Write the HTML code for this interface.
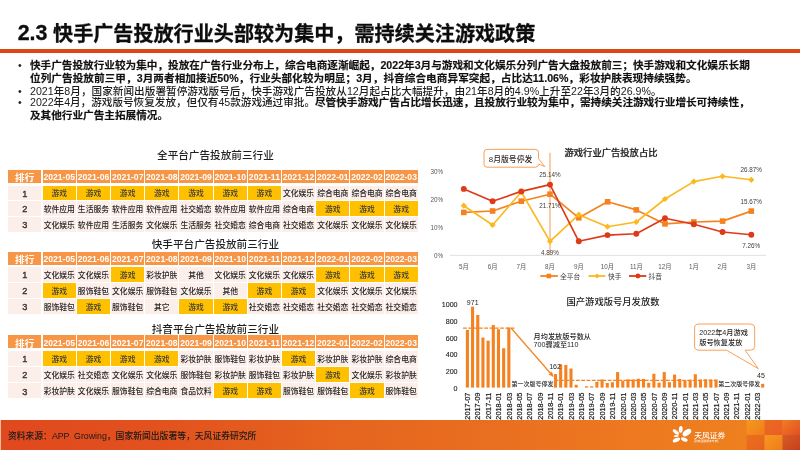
<!DOCTYPE html>
<html lang="zh-CN">
<head>
<meta charset="utf-8">
<title>2.3 快手广告投放行业头部较为集中，需持续关注游戏政策</title>
<style>
html,body{margin:0;padding:0;}
body{width:800px;height:450px;position:relative;overflow:hidden;background:#fff;font-family:"Liberation Sans", "Noto Sans CJK SC", sans-serif;color:#1a1a1a;}
.abs{position:absolute;white-space:nowrap;}
#title{left:18.6px;top:20.0px;font-size:20.1px;line-height:28px;font-weight:bold;color:#0d0d0d;-webkit-text-stroke:0.3px #0d0d0d;}
#title span{font-size:21.4px;position:relative;top:-1.4px;margin-left:-0.9px;}
#rule{left:0;top:49.4px;width:800px;height:3.2px;background:#dc4614;}
.bl{left:30px;font-size:10.63px;line-height:12px;color:#1c1c1c;font-weight:500;}
.bl b{-webkit-text-stroke:0.15px #111;}
#l0{letter-spacing:-0.005px;}#l3{letter-spacing:-0.025px;}#l1{letter-spacing:0.046px;}#l2{letter-spacing:0.015px;}
.bl b{color:#111;}
.bl i{font-style:normal;font-size:1.06em;}
.dot{left:18px;font-size:10.63px;line-height:12px;color:#222;}
.ttl{font-size:10.62px;line-height:14px;color:#1f1f1f;text-align:center;width:200px;font-weight:500;}
.c{position:absolute;box-sizing:border-box;text-align:center;white-space:nowrap;overflow:hidden;font-size:7.8px;color:#262626;font-weight:500;padding-top:0.9px;}
.h{background:#f79646;color:#fff;font-weight:bold;font-size:8.6px;padding-top:1.4px;}
.g{background:#ffc000;color:#3a3a3a;}
.r1{background:#fceee9;}
.r2{background:#fceee9;}
.n{font-weight:normal;color:#333;font-size:9.2px;-webkit-text-stroke:0.35px #333;}
#footer{left:0;top:419.7px;width:800px;height:30.3px;background:linear-gradient(90deg,#e0481e 0%,#e2521e 20%,#e5641f 42%,#e96e20 60%,#ed7820 78%,#ee801e 93%);}
#src{left:7.9px;top:430px;font-size:8.8px;line-height:12px;color:#1a1a1a;font-weight:500;word-spacing:2.3px;}
svg text{font-family:"Liberation Sans", "Noto Sans CJK SC", sans-serif;}
</style>
</head>
<body>
<div id="title" class="abs"><span>2.3</span> 快手广告投放行业头部较为集中，需持续关注游戏政策</div>
<div id="rule" class="abs"></div>
<div class="abs dot" style="top:59.0px">•</div><div class="abs bl" id="l0" style="top:59.0px"><b>快手广告投放行业较为集中，投放在广告行业分布上，综合电商逐渐崛起，2022年3月与游戏和文化娱乐分列广告大盘投放前三；快手游戏和文化娱乐长期</b></div>
<div class="abs bl" id="l1" style="top:71.5px"><b>位列广告投放前三甲，3月两者相加接近50%，行业头部化较为明显；3月，抖音综合电商异军突起，占比达11.06%，彩妆护肤表现持续强势。</b></div>
<div class="abs dot" style="top:84.5px">•</div><div class="abs bl" id="l2" style="top:84.5px">2021年8月，国家新闻出版署暂停游戏版号后，快手游戏广告投放从12月起占比大幅提升，由21年8月的4.9%上升至22年3月的26.9%。</div>
<div class="abs dot" style="top:96.4px">•</div><div class="abs bl" id="l3" style="top:96.4px">2022年4月，游戏版号恢复发放，但仅有45款游戏通过审批。<b>尽管快手游戏广告占比增长迅速，且投放行业较为集中，需持续关注游戏行业增长可持续性，</b></div>
<div class="abs bl" id="l4" style="top:109.0px"><b>及其他行业广告主拓展情况。</b></div>
<div class="abs ttl" style="left:115.4px;top:147.6px">全平台广告投放前三行业</div>
<div class="c h" style="left:8.00px;top:169.75px;width:33.40px;height:13.10px;line-height:13.10px;padding-top:1.40px"><span style="font-size:9.6px">排行</span></div><div class="c h" style="left:42.70px;top:169.75px;width:33.15px;height:13.10px;line-height:13.10px;padding-top:1.40px">2021-05</div><div class="c h" style="left:76.89px;top:169.75px;width:33.15px;height:13.10px;line-height:13.10px;padding-top:1.40px">2021-06</div><div class="c h" style="left:111.08px;top:169.75px;width:33.15px;height:13.10px;line-height:13.10px;padding-top:1.40px">2021-07</div><div class="c h" style="left:145.27px;top:169.75px;width:33.15px;height:13.10px;line-height:13.10px;padding-top:1.40px">2021-08</div><div class="c h" style="left:179.46px;top:169.75px;width:33.15px;height:13.10px;line-height:13.10px;padding-top:1.40px">2021-09</div><div class="c h" style="left:213.65px;top:169.75px;width:33.15px;height:13.10px;line-height:13.10px;padding-top:1.40px">2021-10</div><div class="c h" style="left:247.84px;top:169.75px;width:33.15px;height:13.10px;line-height:13.10px;padding-top:1.40px">2021-11</div><div class="c h" style="left:282.03px;top:169.75px;width:33.15px;height:13.10px;line-height:13.10px;padding-top:1.40px">2021-12</div><div class="c h" style="left:316.22px;top:169.75px;width:33.15px;height:13.10px;line-height:13.10px;padding-top:1.40px">2022-01</div><div class="c h" style="left:350.41px;top:169.75px;width:33.15px;height:13.10px;line-height:13.10px;padding-top:1.40px">2022-02</div><div class="c h" style="left:384.60px;top:169.75px;width:33.15px;height:13.10px;line-height:13.10px;padding-top:1.40px">2022-03</div>
<div class="c r1 n" style="left:8.00px;top:185.60px;width:33.40px;height:14.90px;line-height:14.90px;padding-top:1.00px">1</div><div class="c g" style="left:42.70px;top:185.60px;width:33.15px;height:14.90px;line-height:14.90px;padding-top:1.00px">游戏</div><div class="c g" style="left:76.89px;top:185.60px;width:33.15px;height:14.90px;line-height:14.90px;padding-top:1.00px">游戏</div><div class="c g" style="left:111.08px;top:185.60px;width:33.15px;height:14.90px;line-height:14.90px;padding-top:1.00px">游戏</div><div class="c g" style="left:145.27px;top:185.60px;width:33.15px;height:14.90px;line-height:14.90px;padding-top:1.00px">游戏</div><div class="c g" style="left:179.46px;top:185.60px;width:33.15px;height:14.90px;line-height:14.90px;padding-top:1.00px">游戏</div><div class="c g" style="left:213.65px;top:185.60px;width:33.15px;height:14.90px;line-height:14.90px;padding-top:1.00px">游戏</div><div class="c g" style="left:247.84px;top:185.60px;width:33.15px;height:14.90px;line-height:14.90px;padding-top:1.00px">游戏</div><div class="c r1" style="left:282.03px;top:185.60px;width:33.15px;height:14.90px;line-height:14.90px;padding-top:1.00px">文化娱乐</div><div class="c r1" style="left:316.22px;top:185.60px;width:33.15px;height:14.90px;line-height:14.90px;padding-top:1.00px">综合电商</div><div class="c r1" style="left:350.41px;top:185.60px;width:33.15px;height:14.90px;line-height:14.90px;padding-top:1.00px">综合电商</div><div class="c r1" style="left:384.60px;top:185.60px;width:33.15px;height:14.90px;line-height:14.90px;padding-top:1.00px">综合电商</div>
<div class="c r2 n" style="left:8.00px;top:201.10px;width:33.40px;height:15.00px;line-height:15.00px;padding-top:0.90px">2</div><div class="c r2" style="left:42.70px;top:201.10px;width:33.15px;height:15.00px;line-height:15.00px;padding-top:0.90px">软件应用</div><div class="c r2" style="left:76.89px;top:201.10px;width:33.15px;height:15.00px;line-height:15.00px;padding-top:0.90px">生活服务</div><div class="c r2" style="left:111.08px;top:201.10px;width:33.15px;height:15.00px;line-height:15.00px;padding-top:0.90px">软件应用</div><div class="c r2" style="left:145.27px;top:201.10px;width:33.15px;height:15.00px;line-height:15.00px;padding-top:0.90px">软件应用</div><div class="c r2" style="left:179.46px;top:201.10px;width:33.15px;height:15.00px;line-height:15.00px;padding-top:0.90px">社交婚恋</div><div class="c r2" style="left:213.65px;top:201.10px;width:33.15px;height:15.00px;line-height:15.00px;padding-top:0.90px">软件应用</div><div class="c r2" style="left:247.84px;top:201.10px;width:33.15px;height:15.00px;line-height:15.00px;padding-top:0.90px">软件应用</div><div class="c r2" style="left:282.03px;top:201.10px;width:33.15px;height:15.00px;line-height:15.00px;padding-top:0.90px">综合电商</div><div class="c g" style="left:316.22px;top:201.10px;width:33.15px;height:15.00px;line-height:15.00px;padding-top:0.90px">游戏</div><div class="c g" style="left:350.41px;top:201.10px;width:33.15px;height:15.00px;line-height:15.00px;padding-top:0.90px">游戏</div><div class="c g" style="left:384.60px;top:201.10px;width:33.15px;height:15.00px;line-height:15.00px;padding-top:0.90px">游戏</div>
<div class="c r1 n" style="left:8.00px;top:217.00px;width:33.40px;height:15.00px;line-height:15.00px;padding-top:0.90px">3</div><div class="c r1" style="left:42.70px;top:217.00px;width:33.15px;height:15.00px;line-height:15.00px;padding-top:0.90px">文化娱乐</div><div class="c r1" style="left:76.89px;top:217.00px;width:33.15px;height:15.00px;line-height:15.00px;padding-top:0.90px">软件应用</div><div class="c r1" style="left:111.08px;top:217.00px;width:33.15px;height:15.00px;line-height:15.00px;padding-top:0.90px">生活服务</div><div class="c r1" style="left:145.27px;top:217.00px;width:33.15px;height:15.00px;line-height:15.00px;padding-top:0.90px">文化娱乐</div><div class="c r1" style="left:179.46px;top:217.00px;width:33.15px;height:15.00px;line-height:15.00px;padding-top:0.90px">生活服务</div><div class="c r1" style="left:213.65px;top:217.00px;width:33.15px;height:15.00px;line-height:15.00px;padding-top:0.90px">社交婚恋</div><div class="c r1" style="left:247.84px;top:217.00px;width:33.15px;height:15.00px;line-height:15.00px;padding-top:0.90px">综合电商</div><div class="c r1" style="left:282.03px;top:217.00px;width:33.15px;height:15.00px;line-height:15.00px;padding-top:0.90px">社交婚恋</div><div class="c r1" style="left:316.22px;top:217.00px;width:33.15px;height:15.00px;line-height:15.00px;padding-top:0.90px">文化娱乐</div><div class="c r1" style="left:350.41px;top:217.00px;width:33.15px;height:15.00px;line-height:15.00px;padding-top:0.90px">文化娱乐</div><div class="c r1" style="left:384.60px;top:217.00px;width:33.15px;height:15.00px;line-height:15.00px;padding-top:0.90px">文化娱乐</div>
<div class="abs ttl" style="left:115.4px;top:236.9px">快手平台广告投放前三行业</div>
<div class="c h" style="left:8.00px;top:251.60px;width:33.40px;height:13.10px;line-height:13.10px;padding-top:1.40px"><span style="font-size:9.6px">排行</span></div><div class="c h" style="left:42.70px;top:251.60px;width:33.15px;height:13.10px;line-height:13.10px;padding-top:1.40px">2021-05</div><div class="c h" style="left:76.89px;top:251.60px;width:33.15px;height:13.10px;line-height:13.10px;padding-top:1.40px">2021-06</div><div class="c h" style="left:111.08px;top:251.60px;width:33.15px;height:13.10px;line-height:13.10px;padding-top:1.40px">2021-07</div><div class="c h" style="left:145.27px;top:251.60px;width:33.15px;height:13.10px;line-height:13.10px;padding-top:1.40px">2021-08</div><div class="c h" style="left:179.46px;top:251.60px;width:33.15px;height:13.10px;line-height:13.10px;padding-top:1.40px">2021-09</div><div class="c h" style="left:213.65px;top:251.60px;width:33.15px;height:13.10px;line-height:13.10px;padding-top:1.40px">2021-10</div><div class="c h" style="left:247.84px;top:251.60px;width:33.15px;height:13.10px;line-height:13.10px;padding-top:1.40px">2021-11</div><div class="c h" style="left:282.03px;top:251.60px;width:33.15px;height:13.10px;line-height:13.10px;padding-top:1.40px">2021-12</div><div class="c h" style="left:316.22px;top:251.60px;width:33.15px;height:13.10px;line-height:13.10px;padding-top:1.40px">2022-01</div><div class="c h" style="left:350.41px;top:251.60px;width:33.15px;height:13.10px;line-height:13.10px;padding-top:1.40px">2022-02</div><div class="c h" style="left:384.60px;top:251.60px;width:33.15px;height:13.10px;line-height:13.10px;padding-top:1.40px">2022-03</div>
<div class="c r1 n" style="left:8.00px;top:267.10px;width:33.40px;height:15.40px;line-height:15.40px;padding-top:0.90px">1</div><div class="c r1" style="left:42.70px;top:267.10px;width:33.15px;height:15.40px;line-height:15.40px;padding-top:0.90px">文化娱乐</div><div class="c r1" style="left:76.89px;top:267.10px;width:33.15px;height:15.40px;line-height:15.40px;padding-top:0.90px">文化娱乐</div><div class="c g" style="left:111.08px;top:267.10px;width:33.15px;height:15.40px;line-height:15.40px;padding-top:0.90px">游戏</div><div class="c r1" style="left:145.27px;top:267.10px;width:33.15px;height:15.40px;line-height:15.40px;padding-top:0.90px">彩妆护肤</div><div class="c r1" style="left:179.46px;top:267.10px;width:33.15px;height:15.40px;line-height:15.40px;padding-top:0.90px">其他</div><div class="c r1" style="left:213.65px;top:267.10px;width:33.15px;height:15.40px;line-height:15.40px;padding-top:0.90px">文化娱乐</div><div class="c r1" style="left:247.84px;top:267.10px;width:33.15px;height:15.40px;line-height:15.40px;padding-top:0.90px">文化娱乐</div><div class="c r1" style="left:282.03px;top:267.10px;width:33.15px;height:15.40px;line-height:15.40px;padding-top:0.90px">文化娱乐</div><div class="c g" style="left:316.22px;top:267.10px;width:33.15px;height:15.40px;line-height:15.40px;padding-top:0.90px">游戏</div><div class="c g" style="left:350.41px;top:267.10px;width:33.15px;height:15.40px;line-height:15.40px;padding-top:0.90px">游戏</div><div class="c g" style="left:384.60px;top:267.10px;width:33.15px;height:15.40px;line-height:15.40px;padding-top:0.90px">游戏</div>
<div class="c r2 n" style="left:8.00px;top:283.10px;width:33.40px;height:15.10px;line-height:15.10px;padding-top:0.90px">2</div><div class="c g" style="left:42.70px;top:283.10px;width:33.15px;height:15.10px;line-height:15.10px;padding-top:0.90px">游戏</div><div class="c r2" style="left:76.89px;top:283.10px;width:33.15px;height:15.10px;line-height:15.10px;padding-top:0.90px">服饰鞋包</div><div class="c r2" style="left:111.08px;top:283.10px;width:33.15px;height:15.10px;line-height:15.10px;padding-top:0.90px">文化娱乐</div><div class="c r2" style="left:145.27px;top:283.10px;width:33.15px;height:15.10px;line-height:15.10px;padding-top:0.90px">服饰鞋包</div><div class="c r2" style="left:179.46px;top:283.10px;width:33.15px;height:15.10px;line-height:15.10px;padding-top:0.90px">文化娱乐</div><div class="c r2" style="left:213.65px;top:283.10px;width:33.15px;height:15.10px;line-height:15.10px;padding-top:0.90px">其他</div><div class="c g" style="left:247.84px;top:283.10px;width:33.15px;height:15.10px;line-height:15.10px;padding-top:0.90px">游戏</div><div class="c g" style="left:282.03px;top:283.10px;width:33.15px;height:15.10px;line-height:15.10px;padding-top:0.90px">游戏</div><div class="c r2" style="left:316.22px;top:283.10px;width:33.15px;height:15.10px;line-height:15.10px;padding-top:0.90px">文化娱乐</div><div class="c r2" style="left:350.41px;top:283.10px;width:33.15px;height:15.10px;line-height:15.10px;padding-top:0.90px">文化娱乐</div><div class="c r2" style="left:384.60px;top:283.10px;width:33.15px;height:15.10px;line-height:15.10px;padding-top:0.90px">文化娱乐</div>
<div class="c r1 n" style="left:8.00px;top:298.90px;width:33.40px;height:15.30px;line-height:15.30px;padding-top:1.00px">3</div><div class="c r1" style="left:42.70px;top:298.90px;width:33.15px;height:15.30px;line-height:15.30px;padding-top:1.00px">服饰鞋包</div><div class="c g" style="left:76.89px;top:298.90px;width:33.15px;height:15.30px;line-height:15.30px;padding-top:1.00px">游戏</div><div class="c r1" style="left:111.08px;top:298.90px;width:33.15px;height:15.30px;line-height:15.30px;padding-top:1.00px">服饰鞋包</div><div class="c r1" style="left:145.27px;top:298.90px;width:33.15px;height:15.30px;line-height:15.30px;padding-top:1.00px">其它</div><div class="c g" style="left:179.46px;top:298.90px;width:33.15px;height:15.30px;line-height:15.30px;padding-top:1.00px">游戏</div><div class="c g" style="left:213.65px;top:298.90px;width:33.15px;height:15.30px;line-height:15.30px;padding-top:1.00px">游戏</div><div class="c r1" style="left:247.84px;top:298.90px;width:33.15px;height:15.30px;line-height:15.30px;padding-top:1.00px">社交婚恋</div><div class="c r1" style="left:282.03px;top:298.90px;width:33.15px;height:15.30px;line-height:15.30px;padding-top:1.00px">社交婚恋</div><div class="c r1" style="left:316.22px;top:298.90px;width:33.15px;height:15.30px;line-height:15.30px;padding-top:1.00px">社交婚恋</div><div class="c r1" style="left:350.41px;top:298.90px;width:33.15px;height:15.30px;line-height:15.30px;padding-top:1.00px">社交婚恋</div><div class="c r1" style="left:384.60px;top:298.90px;width:33.15px;height:15.30px;line-height:15.30px;padding-top:1.00px">社交婚恋</div>
<div class="abs ttl" style="left:115.4px;top:321.8px">抖音平台广告投放前三行业</div>
<div class="c h" style="left:8.00px;top:335.10px;width:33.40px;height:13.10px;line-height:13.10px;padding-top:2.20px"><span style="font-size:9.6px">排行</span></div><div class="c h" style="left:42.70px;top:335.10px;width:33.15px;height:13.10px;line-height:13.10px;padding-top:2.20px">2021-05</div><div class="c h" style="left:76.89px;top:335.10px;width:33.15px;height:13.10px;line-height:13.10px;padding-top:2.20px">2021-06</div><div class="c h" style="left:111.08px;top:335.10px;width:33.15px;height:13.10px;line-height:13.10px;padding-top:2.20px">2021-07</div><div class="c h" style="left:145.27px;top:335.10px;width:33.15px;height:13.10px;line-height:13.10px;padding-top:2.20px">2021-08</div><div class="c h" style="left:179.46px;top:335.10px;width:33.15px;height:13.10px;line-height:13.10px;padding-top:2.20px">2021-09</div><div class="c h" style="left:213.65px;top:335.10px;width:33.15px;height:13.10px;line-height:13.10px;padding-top:2.20px">2021-10</div><div class="c h" style="left:247.84px;top:335.10px;width:33.15px;height:13.10px;line-height:13.10px;padding-top:2.20px">2021-11</div><div class="c h" style="left:282.03px;top:335.10px;width:33.15px;height:13.10px;line-height:13.10px;padding-top:2.20px">2021-12</div><div class="c h" style="left:316.22px;top:335.10px;width:33.15px;height:13.10px;line-height:13.10px;padding-top:2.20px">2022-01</div><div class="c h" style="left:350.41px;top:335.10px;width:33.15px;height:13.10px;line-height:13.10px;padding-top:2.20px">2022-02</div><div class="c h" style="left:384.60px;top:335.10px;width:33.15px;height:13.10px;line-height:13.10px;padding-top:2.20px">2022-03</div>
<div class="c r1 n" style="left:8.00px;top:350.70px;width:33.40px;height:15.00px;line-height:15.00px;padding-top:0.90px">1</div><div class="c g" style="left:42.70px;top:350.70px;width:33.15px;height:15.00px;line-height:15.00px;padding-top:0.90px">游戏</div><div class="c g" style="left:76.89px;top:350.70px;width:33.15px;height:15.00px;line-height:15.00px;padding-top:0.90px">游戏</div><div class="c g" style="left:111.08px;top:350.70px;width:33.15px;height:15.00px;line-height:15.00px;padding-top:0.90px">游戏</div><div class="c g" style="left:145.27px;top:350.70px;width:33.15px;height:15.00px;line-height:15.00px;padding-top:0.90px">游戏</div><div class="c r1" style="left:179.46px;top:350.70px;width:33.15px;height:15.00px;line-height:15.00px;padding-top:0.90px">彩妆护肤</div><div class="c r1" style="left:213.65px;top:350.70px;width:33.15px;height:15.00px;line-height:15.00px;padding-top:0.90px">服饰鞋包</div><div class="c r1" style="left:247.84px;top:350.70px;width:33.15px;height:15.00px;line-height:15.00px;padding-top:0.90px">彩妆护肤</div><div class="c g" style="left:282.03px;top:350.70px;width:33.15px;height:15.00px;line-height:15.00px;padding-top:0.90px">游戏</div><div class="c r1" style="left:316.22px;top:350.70px;width:33.15px;height:15.00px;line-height:15.00px;padding-top:0.90px">彩妆护肤</div><div class="c r1" style="left:350.41px;top:350.70px;width:33.15px;height:15.00px;line-height:15.00px;padding-top:0.90px">彩妆护肤</div><div class="c r1" style="left:384.60px;top:350.70px;width:33.15px;height:15.00px;line-height:15.00px;padding-top:0.90px">综合电商</div>
<div class="c r2 n" style="left:8.00px;top:366.80px;width:33.40px;height:15.00px;line-height:15.00px;padding-top:1.00px">2</div><div class="c r2" style="left:42.70px;top:366.80px;width:33.15px;height:15.00px;line-height:15.00px;padding-top:1.00px">文化娱乐</div><div class="c r2" style="left:76.89px;top:366.80px;width:33.15px;height:15.00px;line-height:15.00px;padding-top:1.00px">社交婚恋</div><div class="c r2" style="left:111.08px;top:366.80px;width:33.15px;height:15.00px;line-height:15.00px;padding-top:1.00px">文化娱乐</div><div class="c r2" style="left:145.27px;top:366.80px;width:33.15px;height:15.00px;line-height:15.00px;padding-top:1.00px">文化娱乐</div><div class="c r2" style="left:179.46px;top:366.80px;width:33.15px;height:15.00px;line-height:15.00px;padding-top:1.00px">服饰鞋包</div><div class="c r2" style="left:213.65px;top:366.80px;width:33.15px;height:15.00px;line-height:15.00px;padding-top:1.00px">彩妆护肤</div><div class="c r2" style="left:247.84px;top:366.80px;width:33.15px;height:15.00px;line-height:15.00px;padding-top:1.00px">服饰鞋包</div><div class="c r2" style="left:282.03px;top:366.80px;width:33.15px;height:15.00px;line-height:15.00px;padding-top:1.00px">彩妆护肤</div><div class="c g" style="left:316.22px;top:366.80px;width:33.15px;height:15.00px;line-height:15.00px;padding-top:1.00px">游戏</div><div class="c r2" style="left:350.41px;top:366.80px;width:33.15px;height:15.00px;line-height:15.00px;padding-top:1.00px">文化娱乐</div><div class="c r2" style="left:384.60px;top:366.80px;width:33.15px;height:15.00px;line-height:15.00px;padding-top:1.00px">彩妆护肤</div>
<div class="c r1 n" style="left:8.00px;top:382.90px;width:33.40px;height:14.80px;line-height:14.80px;padding-top:1.90px">3</div><div class="c r1" style="left:42.70px;top:382.90px;width:33.15px;height:14.80px;line-height:14.80px;padding-top:1.90px">彩妆护肤</div><div class="c r1" style="left:76.89px;top:382.90px;width:33.15px;height:14.80px;line-height:14.80px;padding-top:1.90px">文化娱乐</div><div class="c r1" style="left:111.08px;top:382.90px;width:33.15px;height:14.80px;line-height:14.80px;padding-top:1.90px">服饰鞋包</div><div class="c r1" style="left:145.27px;top:382.90px;width:33.15px;height:14.80px;line-height:14.80px;padding-top:1.90px">综合电商</div><div class="c r1" style="left:179.46px;top:382.90px;width:33.15px;height:14.80px;line-height:14.80px;padding-top:1.90px">食品饮料</div><div class="c g" style="left:213.65px;top:382.90px;width:33.15px;height:14.80px;line-height:14.80px;padding-top:1.90px">游戏</div><div class="c g" style="left:247.84px;top:382.90px;width:33.15px;height:14.80px;line-height:14.80px;padding-top:1.90px">游戏</div><div class="c r1" style="left:282.03px;top:382.90px;width:33.15px;height:14.80px;line-height:14.80px;padding-top:1.90px">服饰鞋包</div><div class="c r1" style="left:316.22px;top:382.90px;width:33.15px;height:14.80px;line-height:14.80px;padding-top:1.90px">服饰鞋包</div><div class="c g" style="left:350.41px;top:382.90px;width:33.15px;height:14.80px;line-height:14.80px;padding-top:1.90px">游戏</div><div class="c r1" style="left:384.60px;top:382.90px;width:33.15px;height:14.80px;line-height:14.80px;padding-top:1.90px">服饰鞋包</div>
<svg class="abs" style="left:0;top:0" width="800" height="450" viewBox="0 0 800 450">
<text x="611" y="155.5" font-size="9.3" font-weight="500" stroke="#222" stroke-width="0.22" text-anchor="middle" fill="#222">游戏行业广告投放占比</text>
<text x="443" y="258.3" font-size="6.3" text-anchor="end" fill="#595959">0%</text><text x="443" y="230.3" font-size="6.3" text-anchor="end" fill="#595959">10%</text><text x="443" y="202.3" font-size="6.3" text-anchor="end" fill="#595959">20%</text><text x="443" y="174.3" font-size="6.3" text-anchor="end" fill="#595959">30%</text>
<line x1="450" y1="255.4" x2="766" y2="255.4" stroke="#d9d9d9" stroke-width="0.8"/>
<text x="463.8" y="269.0" font-size="6.3" text-anchor="middle" fill="#595959">5月</text><text x="492.6" y="269.0" font-size="6.3" text-anchor="middle" fill="#595959">6月</text><text x="521.3" y="269.0" font-size="6.3" text-anchor="middle" fill="#595959">7月</text><text x="550.0" y="269.0" font-size="6.3" text-anchor="middle" fill="#595959">8月</text><text x="578.8" y="269.0" font-size="6.3" text-anchor="middle" fill="#595959">9月</text><text x="607.5" y="269.0" font-size="6.3" text-anchor="middle" fill="#595959">10月</text><text x="636.3" y="269.0" font-size="6.3" text-anchor="middle" fill="#595959">11月</text><text x="665.0" y="269.0" font-size="6.3" text-anchor="middle" fill="#595959">12月</text><text x="693.8" y="269.0" font-size="6.3" text-anchor="middle" fill="#595959">1月</text><text x="722.5" y="269.0" font-size="6.3" text-anchor="middle" fill="#595959">2月</text><text x="751.3" y="269.0" font-size="6.3" text-anchor="middle" fill="#595959">3月</text>
<line x1="550.0" y1="152.7" x2="550.0" y2="255" stroke="#fac090" stroke-width="1.6"/>
<polyline points="463.8,212.4 492.6,211.0 521.3,201.2 550.0,194.2 578.8,217.8 607.5,201.8 636.3,209.9 665.0,223.9 693.8,222.0 722.5,221.1 751.3,211.1" fill="none" stroke="#f5821e" stroke-width="1.65" stroke-linejoin="round" stroke-linecap="round"/>
<rect x="461.0" y="209.6" width="5.6" height="5.6" fill="#f5821e"/><rect x="489.8" y="208.2" width="5.6" height="5.6" fill="#f5821e"/><rect x="518.5" y="198.4" width="5.6" height="5.6" fill="#f5821e"/><rect x="547.2" y="191.4" width="5.6" height="5.6" fill="#f5821e"/><rect x="576.0" y="215.0" width="5.6" height="5.6" fill="#f5821e"/><rect x="604.8" y="199.0" width="5.6" height="5.6" fill="#f5821e"/><rect x="633.5" y="207.1" width="5.6" height="5.6" fill="#f5821e"/><rect x="662.2" y="221.1" width="5.6" height="5.6" fill="#f5821e"/><rect x="691.0" y="219.2" width="5.6" height="5.6" fill="#f5821e"/><rect x="719.8" y="218.3" width="5.6" height="5.6" fill="#f5821e"/><rect x="748.5" y="208.3" width="5.6" height="5.6" fill="#f5821e"/>
<polyline points="463.8,205.7 492.6,225.0 521.3,192.0 550.0,241.3 578.8,214.7 607.5,226.7 636.3,222.0 665.0,199.0 693.8,181.6 722.5,176.3 751.3,179.8" fill="none" stroke="#fbb91f" stroke-width="1.65" stroke-linejoin="round" stroke-linecap="round"/>
<polygon points="463.8,202.6 466.9,205.7 463.8,208.8 460.7,205.7" fill="#fbb91f"/><polygon points="492.6,221.9 495.7,225.0 492.6,228.1 489.4,225.0" fill="#fbb91f"/><polygon points="521.3,188.9 524.4,192.0 521.3,195.1 518.2,192.0" fill="#fbb91f"/><polygon points="550.0,238.2 553.1,241.3 550.0,244.4 546.9,241.3" fill="#fbb91f"/><polygon points="578.8,211.6 581.9,214.7 578.8,217.8 575.7,214.7" fill="#fbb91f"/><polygon points="607.5,223.6 610.6,226.7 607.5,229.8 604.4,226.7" fill="#fbb91f"/><polygon points="636.3,218.9 639.4,222.0 636.3,225.1 633.2,222.0" fill="#fbb91f"/><polygon points="665.0,195.9 668.1,199.0 665.0,202.1 661.9,199.0" fill="#fbb91f"/><polygon points="693.8,178.5 696.9,181.6 693.8,184.7 690.7,181.6" fill="#fbb91f"/><polygon points="722.5,173.2 725.6,176.3 722.5,179.4 719.4,176.3" fill="#fbb91f"/><polygon points="751.3,176.7 754.4,179.8 751.3,182.9 748.2,179.8" fill="#fbb91f"/>
<polyline points="463.8,188.9 492.6,201.2 521.3,191.4 550.0,184.6 578.8,241.3 607.5,235.1 636.3,233.7 665.0,218.3 693.8,224.2 722.5,232.0 751.3,234.7" fill="none" stroke="#de3a18" stroke-width="1.65" stroke-linejoin="round" stroke-linecap="round"/>
<circle cx="463.8" cy="188.9" r="2.95" fill="#de3a18"/><circle cx="492.6" cy="201.2" r="2.95" fill="#de3a18"/><circle cx="521.3" cy="191.4" r="2.95" fill="#de3a18"/><circle cx="550.0" cy="184.6" r="2.95" fill="#de3a18"/><circle cx="578.8" cy="241.3" r="2.95" fill="#de3a18"/><circle cx="607.5" cy="235.1" r="2.95" fill="#de3a18"/><circle cx="636.3" cy="233.7" r="2.95" fill="#de3a18"/><circle cx="665.0" cy="218.3" r="2.95" fill="#de3a18"/><circle cx="693.8" cy="224.2" r="2.95" fill="#de3a18"/><circle cx="722.5" cy="232.0" r="2.95" fill="#de3a18"/><circle cx="751.3" cy="234.7" r="2.95" fill="#de3a18"/>
<text x="550.0" y="176.9" font-size="6.3" text-anchor="middle" fill="#404040">25.14%</text><text x="550.0" y="207.6" font-size="6.3" text-anchor="middle" fill="#404040">21.71%</text><text x="550.0" y="255.0" font-size="6.3" text-anchor="middle" fill="#404040">4.89%</text><text x="751.3" y="172.3" font-size="6.3" text-anchor="middle" fill="#404040">26.87%</text><text x="751.3" y="203.6" font-size="6.3" text-anchor="middle" fill="#404040">15.67%</text><text x="751.3" y="248.3" font-size="6.3" text-anchor="middle" fill="#404040">7.26%</text>
<line x1="540.3" y1="276.0" x2="557.8" y2="276.0" stroke="#f5821e" stroke-width="1.8"/><rect x="546.5" y="273.7" width="4.6" height="4.6" fill="#f5821e"/><text x="560" y="278.5" font-size="6.75" fill="#404040">全平台</text><line x1="588.5" y1="276.0" x2="605.5" y2="276.0" stroke="#fbb91f" stroke-width="1.8"/><polygon points="597,273.5 599.5,276.0 597,278.5 594.5,276.0" fill="#fbb91f"/><text x="607.9" y="278.5" font-size="6.75" fill="#404040">快手</text><line x1="629" y1="276.0" x2="646.3" y2="276.0" stroke="#de3a18" stroke-width="1.8"/><circle cx="637.9" cy="276.0" r="2.4" fill="#de3a18"/><text x="648.6" y="278.5" font-size="6.75" fill="#404040">抖音</text>
<path d="M487,149.4 H535.5 Q538.5,149.4 538.5,152.4 V158.6 L544.8,166.7 L538.5,164 Q538.5,167.2 535.5,167.2 H487 Q484,167.2 484,164.2 V152.4 Q484,149.4 487,149.4 Z" fill="#fff" stroke="#f79646" stroke-width="0.9" stroke-linejoin="round"/>
<text x="510.6" y="162.2" font-size="7.84" font-weight="500" text-anchor="middle" fill="#2b2b2b">8月版号停发</text>
<text x="613" y="304.5" font-size="9.3" font-weight="500" text-anchor="middle" fill="#222">国产游戏版号月发放数</text>
<text x="457.6" y="390.5" font-size="7.15" text-anchor="end" fill="#1f1f1f" stroke="#1f1f1f" stroke-width="0.12">0</text><text x="457.6" y="373.8" font-size="7.15" text-anchor="end" fill="#1f1f1f" stroke="#1f1f1f" stroke-width="0.12">200</text><text x="457.6" y="357.1" font-size="7.15" text-anchor="end" fill="#1f1f1f" stroke="#1f1f1f" stroke-width="0.12">400</text><text x="457.6" y="340.5" font-size="7.15" text-anchor="end" fill="#1f1f1f" stroke="#1f1f1f" stroke-width="0.12">600</text><text x="457.6" y="323.8" font-size="7.15" text-anchor="end" fill="#1f1f1f" stroke="#1f1f1f" stroke-width="0.12">800</text><text x="457.6" y="307.1" font-size="7.15" text-anchor="end" fill="#1f1f1f" stroke="#1f1f1f" stroke-width="0.12">1000</text>
<rect x="465.85" y="329.89" width="3.1" height="57.71" fill="#f58220"/><rect x="471.03" y="306.62" width="3.1" height="80.98" fill="#f58220"/><rect x="476.21" y="314.96" width="3.1" height="72.64" fill="#f58220"/><rect x="481.39" y="337.56" width="3.1" height="50.04" fill="#f58220"/><rect x="486.57" y="340.65" width="3.1" height="46.95" fill="#f58220"/><rect x="491.75" y="324.97" width="3.1" height="62.63" fill="#f58220"/><rect x="496.93" y="329.22" width="3.1" height="58.38" fill="#f58220"/><rect x="502.11" y="348.24" width="3.1" height="39.36" fill="#f58220"/><rect x="507.29" y="327.55" width="3.1" height="60.05" fill="#f58220"/><rect x="553.91" y="374.09" width="3.1" height="13.51" fill="#f58220"/><rect x="559.09" y="364.33" width="3.1" height="23.27" fill="#f58220"/><rect x="564.27" y="365.00" width="3.1" height="22.60" fill="#f58220"/><rect x="569.45" y="368.50" width="3.1" height="19.10" fill="#f58220"/><rect x="574.63" y="384.76" width="3.1" height="2.84" fill="#f58220"/><rect x="584.99" y="386.27" width="3.1" height="1.33" fill="#f58220"/><rect x="590.17" y="386.27" width="3.1" height="1.33" fill="#f58220"/><rect x="595.35" y="381.76" width="3.1" height="5.84" fill="#f58220"/><rect x="600.53" y="379.51" width="3.1" height="8.09" fill="#f58220"/><rect x="605.71" y="383.01" width="3.1" height="4.59" fill="#f58220"/><rect x="610.89" y="382.26" width="3.1" height="5.34" fill="#f58220"/><rect x="616.07" y="372.09" width="3.1" height="15.51" fill="#f58220"/><rect x="621.25" y="380.76" width="3.1" height="6.84" fill="#f58220"/><rect x="626.43" y="379.34" width="3.1" height="8.26" fill="#f58220"/><rect x="631.61" y="379.51" width="3.1" height="8.09" fill="#f58220"/><rect x="636.79" y="378.68" width="3.1" height="8.92" fill="#f58220"/><rect x="641.97" y="379.01" width="3.1" height="8.59" fill="#f58220"/><rect x="647.15" y="382.76" width="3.1" height="4.84" fill="#f58220"/><rect x="652.33" y="373.76" width="3.1" height="13.84" fill="#f58220"/><rect x="657.51" y="382.76" width="3.1" height="4.84" fill="#f58220"/><rect x="662.69" y="372.09" width="3.1" height="15.51" fill="#f58220"/><rect x="667.87" y="382.18" width="3.1" height="5.42" fill="#f58220"/><rect x="673.05" y="374.59" width="3.1" height="13.01" fill="#f58220"/><rect x="678.23" y="378.93" width="3.1" height="8.67" fill="#f58220"/><rect x="683.41" y="380.34" width="3.1" height="7.26" fill="#f58220"/><rect x="688.59" y="379.76" width="3.1" height="7.84" fill="#f58220"/><rect x="693.77" y="374.26" width="3.1" height="13.34" fill="#f58220"/><rect x="698.95" y="379.51" width="3.1" height="8.09" fill="#f58220"/><rect x="704.13" y="379.26" width="3.1" height="8.34" fill="#f58220"/><rect x="709.31" y="379.51" width="3.1" height="8.09" fill="#f58220"/><rect x="714.49" y="379.51" width="3.1" height="8.09" fill="#f58220"/><rect x="761.11" y="383.85" width="3.1" height="3.75" fill="#f58220"/>
<text transform="translate(470.10,392.6) rotate(-90)" font-size="7.4" text-anchor="end" fill="#1f1f1f" stroke="#1f1f1f" stroke-width="0.22">2017-07</text><text transform="translate(480.46,392.6) rotate(-90)" font-size="7.4" text-anchor="end" fill="#1f1f1f" stroke="#1f1f1f" stroke-width="0.22">2017-09</text><text transform="translate(490.82,392.6) rotate(-90)" font-size="7.4" text-anchor="end" fill="#1f1f1f" stroke="#1f1f1f" stroke-width="0.22">2017-11</text><text transform="translate(501.18,392.6) rotate(-90)" font-size="7.4" text-anchor="end" fill="#1f1f1f" stroke="#1f1f1f" stroke-width="0.22">2018-01</text><text transform="translate(511.54,392.6) rotate(-90)" font-size="7.4" text-anchor="end" fill="#1f1f1f" stroke="#1f1f1f" stroke-width="0.22">2018-03</text><text transform="translate(521.90,392.6) rotate(-90)" font-size="7.4" text-anchor="end" fill="#1f1f1f" stroke="#1f1f1f" stroke-width="0.22">2018-05</text><text transform="translate(532.26,392.6) rotate(-90)" font-size="7.4" text-anchor="end" fill="#1f1f1f" stroke="#1f1f1f" stroke-width="0.22">2018-07</text><text transform="translate(542.62,392.6) rotate(-90)" font-size="7.4" text-anchor="end" fill="#1f1f1f" stroke="#1f1f1f" stroke-width="0.22">2018-09</text><text transform="translate(552.98,392.6) rotate(-90)" font-size="7.4" text-anchor="end" fill="#1f1f1f" stroke="#1f1f1f" stroke-width="0.22">2018-11</text><text transform="translate(563.34,392.6) rotate(-90)" font-size="7.4" text-anchor="end" fill="#1f1f1f" stroke="#1f1f1f" stroke-width="0.22">2019-01</text><text transform="translate(573.70,392.6) rotate(-90)" font-size="7.4" text-anchor="end" fill="#1f1f1f" stroke="#1f1f1f" stroke-width="0.22">2019-03</text><text transform="translate(584.06,392.6) rotate(-90)" font-size="7.4" text-anchor="end" fill="#1f1f1f" stroke="#1f1f1f" stroke-width="0.22">2019-05</text><text transform="translate(594.42,392.6) rotate(-90)" font-size="7.4" text-anchor="end" fill="#1f1f1f" stroke="#1f1f1f" stroke-width="0.22">2019-07</text><text transform="translate(604.78,392.6) rotate(-90)" font-size="7.4" text-anchor="end" fill="#1f1f1f" stroke="#1f1f1f" stroke-width="0.22">2019-09</text><text transform="translate(615.14,392.6) rotate(-90)" font-size="7.4" text-anchor="end" fill="#1f1f1f" stroke="#1f1f1f" stroke-width="0.22">2019-11</text><text transform="translate(625.50,392.6) rotate(-90)" font-size="7.4" text-anchor="end" fill="#1f1f1f" stroke="#1f1f1f" stroke-width="0.22">2020-01</text><text transform="translate(635.86,392.6) rotate(-90)" font-size="7.4" text-anchor="end" fill="#1f1f1f" stroke="#1f1f1f" stroke-width="0.22">2020-03</text><text transform="translate(646.22,392.6) rotate(-90)" font-size="7.4" text-anchor="end" fill="#1f1f1f" stroke="#1f1f1f" stroke-width="0.22">2020-05</text><text transform="translate(656.58,392.6) rotate(-90)" font-size="7.4" text-anchor="end" fill="#1f1f1f" stroke="#1f1f1f" stroke-width="0.22">2020-07</text><text transform="translate(666.94,392.6) rotate(-90)" font-size="7.4" text-anchor="end" fill="#1f1f1f" stroke="#1f1f1f" stroke-width="0.22">2020-09</text><text transform="translate(677.30,392.6) rotate(-90)" font-size="7.4" text-anchor="end" fill="#1f1f1f" stroke="#1f1f1f" stroke-width="0.22">2020-11</text><text transform="translate(687.66,392.6) rotate(-90)" font-size="7.4" text-anchor="end" fill="#1f1f1f" stroke="#1f1f1f" stroke-width="0.22">2021-01</text><text transform="translate(698.02,392.6) rotate(-90)" font-size="7.4" text-anchor="end" fill="#1f1f1f" stroke="#1f1f1f" stroke-width="0.22">2021-03</text><text transform="translate(708.38,392.6) rotate(-90)" font-size="7.4" text-anchor="end" fill="#1f1f1f" stroke="#1f1f1f" stroke-width="0.22">2021-05</text><text transform="translate(718.74,392.6) rotate(-90)" font-size="7.4" text-anchor="end" fill="#1f1f1f" stroke="#1f1f1f" stroke-width="0.22">2021-07</text><text transform="translate(729.10,392.6) rotate(-90)" font-size="7.4" text-anchor="end" fill="#1f1f1f" stroke="#1f1f1f" stroke-width="0.22">2021-09</text><text transform="translate(739.46,392.6) rotate(-90)" font-size="7.4" text-anchor="end" fill="#1f1f1f" stroke="#1f1f1f" stroke-width="0.22">2021-11</text><text transform="translate(749.82,392.6) rotate(-90)" font-size="7.4" text-anchor="end" fill="#1f1f1f" stroke="#1f1f1f" stroke-width="0.22">2022-01</text><text transform="translate(760.18,392.6) rotate(-90)" font-size="7.4" text-anchor="end" fill="#1f1f1f" stroke="#1f1f1f" stroke-width="0.22">2022-03</text>
<line x1="463" y1="328.1" x2="515" y2="328.1" stroke="#f58220" stroke-width="1.3" stroke-dasharray="3.8,1.5"/><line x1="554.7" y1="380.3" x2="717" y2="380.3" stroke="#f58220" stroke-width="1.3" stroke-dasharray="3.8,1.5"/>
<line x1="511" y1="328" x2="552" y2="375" stroke="#f58220" stroke-width="1.2"/><polygon points="553.6,377 548.6,374.4 551.9,371.6" fill="#f58220"/>
<text x="533.6" y="339.3" font-size="7.18" font-weight="500" fill="#262626">月均发放版号数从</text><text x="533.6" y="347.3" font-size="7.18" font-weight="500" fill="#262626">700骤减至110</text>
<text x="472.7" y="304.8" font-size="7" text-anchor="middle" fill="#262626">971</text><text x="555" y="368.5" font-size="7" text-anchor="middle" fill="#262626">162</text><text x="761" y="378.1" font-size="7" text-anchor="middle" fill="#262626">45</text>
<text x="511.6" y="386.0" font-size="6.0" font-weight="500" fill="#262626">第一次版号停发</text><text x="718.3" y="386.1" font-size="6.0" font-weight="500" fill="#262626">第二次版号停发</text>
<path d="M699,324 H750.7 Q754.7,324 754.7,328 V346.2 Q754.7,350.2 750.7,350.2 H745 L758.3,368.7 L726.6,350.2 H699 Q694.6,350.2 694.6,346.2 V328 Q694.6,324 699,324 Z" fill="#fff" stroke="#f79646" stroke-width="0.9" stroke-linejoin="round"/>
<text x="699.2" y="335.4" font-size="7.2" font-weight="500" fill="#262626">2022年4月游戏</text><text x="699.2" y="344.5" font-size="7.2" font-weight="500" fill="#262626">版号恢复发放</text>
</svg>
<div id="footer" class="abs"></div><div class="abs" style="left:0;top:419.7px;width:0.9px;height:31px;background:#f2bfa3"></div>
<svg class="abs" style="left:0;top:420px" width="800" height="30" viewBox="0 420 800 30">
<defs><linearGradient id="g1" x1="0" y1="0" x2="1" y2="1"><stop offset="0" stop-color="#f6981e"/><stop offset="1" stop-color="#ee7d1c"/></linearGradient><linearGradient id="g2" x1="0" y1="0" x2="1" y2="1"><stop offset="0" stop-color="#ec6a20"/><stop offset="1" stop-color="#ea5e26"/></linearGradient><linearGradient id="g3" x1="0" y1="0" x2="1" y2="1"><stop offset="0" stop-color="#f07d20"/><stop offset="1" stop-color="#e34e24"/></linearGradient><linearGradient id="g4" x1="0" y1="0" x2="1" y2="1"><stop offset="0" stop-color="#ec6f1e"/><stop offset="1" stop-color="#e7621e"/></linearGradient><linearGradient id="g5" x1="0" y1="0" x2="1" y2="1"><stop offset="0" stop-color="#f6981e"/><stop offset="1" stop-color="#ee7d1c"/></linearGradient><linearGradient id="g6" x1="0" y1="0" x2="1" y2="1"><stop offset="0" stop-color="#d45c23"/><stop offset="1" stop-color="#c8401e"/></linearGradient></defs>
<rect x="746.6" y="419.9" width="18" height="15.1" fill="url(#g1)"/><rect x="764.6" y="419.9" width="17.9" height="15.1" fill="url(#g2)"/><rect x="782.5" y="419.9" width="17.5" height="15.1" fill="url(#g3)"/><rect x="746.6" y="435" width="18" height="15" fill="url(#g4)"/><rect x="764.6" y="435" width="17.9" height="15" fill="url(#g5)"/><rect x="782.5" y="435" width="17.5" height="15" fill="url(#g6)"/>
<g fill="#fff"><ellipse cx="680.75" cy="429.4" rx="3.4" ry="1.9" transform="rotate(95 680.75 429.4)"/><ellipse cx="675.9" cy="432.1" rx="3.7" ry="1.7" transform="rotate(37 675.9 432.1)"/><ellipse cx="676.2" cy="436.0" rx="2.6" ry="1.0" transform="rotate(-5 676.2 436.0)"/><ellipse cx="676.4" cy="440.0" rx="3.9" ry="2.0" transform="rotate(-25 676.4 440.0)"/><ellipse cx="684.3" cy="439.5" rx="3.5" ry="1.8" transform="rotate(22 684.3 439.5)"/><ellipse cx="686.9" cy="432.6" rx="4.9" ry="2.8" transform="rotate(-36 686.9 432.6)"/></g>
<text transform="translate(694.2,438.4) scale(1,0.86)" font-size="7.75" font-weight="500" fill="#fff">天风证券</text><text x="694.3" y="441.8" font-size="2.8" fill="#fff">[财富金融服务专家]</text>
</svg>
<div id="src" class="abs">资料来源：APP Growing，国家新闻出版署等，天风证券研究所</div>
</body>
</html>
